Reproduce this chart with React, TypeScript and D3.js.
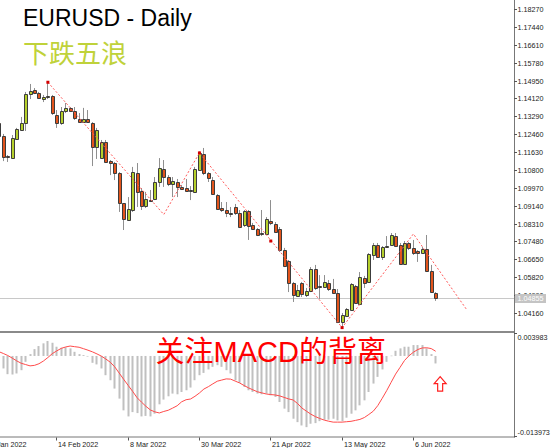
import React from 'react';
import * as d3 from 'd3';

const W = 554;
const H = 448;

// OHLC, bar 0 = partially visible first bar (26 Jan 2022) ... bar 98 = 13 Jun 2022
const open = [1.1300,
  1.1238, 1.1145, 1.1135, 1.1224, 1.1265, 1.1298, 1.1432, 1.1451, 1.1437, 1.1409,
  1.1419, 1.1423, 1.1335, 1.1298, 1.1354, 1.1368, 1.1354, 1.1316, 1.1302, 1.1316,
  1.1298, 1.1186, 1.1135, 1.1210, 1.1121, 1.1112, 1.1066, 1.0926, 1.0848, 1.0894,
  1.1066, 1.0982, 1.0913, 1.0940, 1.0945, 1.1024, 1.1084, 1.1047, 1.1015, 1.1024,
  1.1001, 1.0996, 1.0987, 1.0978, 1.1080, 1.1154, 1.1066, 1.1033, 1.0964, 1.0903,
  1.0894, 1.0880, 1.0908, 1.0880, 1.0824, 1.0889, 1.0824, 1.0806, 1.0787, 1.0783,
  1.0843, 1.0829, 1.0806, 1.0708, 1.0657, 1.0555, 1.0495, 1.0555, 1.0499, 1.0518,
  1.0620, 1.0541, 1.0537, 1.0555, 1.0527, 1.0509, 1.0374, 1.0402, 1.0430, 1.0541,
  1.0458, 1.0578, 1.0560, 1.0685, 1.0732, 1.0676, 1.0722, 1.0732, 1.0773, 1.0732,
  1.0643, 1.0741, 1.0718, 1.0704, 1.0694, 1.0713, 1.0611, 1.0509];
const high = [1.1306,
  1.1247, 1.1149, 1.1242, 1.1275, 1.1326, 1.1442, 1.1479, 1.1460, 1.1442, 1.1428,
  1.1488, 1.1428, 1.1358, 1.1372, 1.1391, 1.1372, 1.1372, 1.1344, 1.1368, 1.1358,
  1.1302, 1.1275, 1.1219, 1.1219, 1.1126, 1.1117, 1.1070, 1.0926, 1.0954, 1.1094,
  1.1112, 1.0996, 1.0978, 1.0987, 1.1047, 1.1135, 1.1126, 1.1056, 1.1047, 1.1038,
  1.1010, 1.1038, 1.1005, 1.1094, 1.1166, 1.1182, 1.1070, 1.1047, 1.0968, 1.0931,
  1.0931, 1.0908, 1.0922, 1.0894, 1.0894, 1.0894, 1.0834, 1.0810, 1.0894, 1.0861,
  1.0940, 1.0838, 1.0815, 1.0718, 1.0662, 1.0560, 1.0546, 1.0560, 1.0532, 1.0629,
  1.0639, 1.0592, 1.0592, 1.0569, 1.0574, 1.0527, 1.0416, 1.0439, 1.0555, 1.0546,
  1.0606, 1.0588, 1.0694, 1.0741, 1.0741, 1.0727, 1.0773, 1.0787, 1.0787, 1.0741,
  1.0750, 1.0745, 1.0755, 1.0708, 1.0722, 1.0778, 1.0639, 1.0513];
const low = [1.1233,
  1.1121, 1.1117, 1.1131, 1.1219, 1.1261, 1.1261, 1.1409, 1.1432, 1.1409, 1.1395,
  1.1409, 1.1335, 1.1275, 1.1289, 1.1344, 1.1349, 1.1312, 1.1298, 1.1298, 1.1298,
  1.1098, 1.1131, 1.1131, 1.1112, 1.1056, 1.1033, 1.0885, 1.0801, 1.0843, 1.0885,
  1.0908, 1.0894, 1.0903, 1.0931, 1.0940, 1.1001, 1.1001, 1.1005, 1.0954, 1.0954,
  1.0987, 1.0978, 1.0940, 1.0973, 1.1075, 1.1056, 1.1024, 1.0964, 1.0894, 1.0885,
  1.0861, 1.0861, 1.0871, 1.0810, 1.0815, 1.0755, 1.0801, 1.0773, 1.0773, 1.0778,
  1.0824, 1.0787, 1.0699, 1.0629, 1.0513, 1.0467, 1.0490, 1.0490, 1.0490, 1.0513,
  1.0523, 1.0481, 1.0532, 1.0518, 1.0504, 1.0369, 1.0351, 1.0397, 1.0425, 1.0458,
  1.0453, 1.0532, 1.0555, 1.0662, 1.0671, 1.0662, 1.0718, 1.0727, 1.0722, 1.0639,
  1.0639, 1.0708, 1.0685, 1.0653, 1.0690, 1.0606, 1.0509, 1.0472];
const close = [1.1238,
  1.1140, 1.1138, 1.1228, 1.1270, 1.1298, 1.1432, 1.1446, 1.1437, 1.1414, 1.1419,
  1.1423, 1.1344, 1.1298, 1.1354, 1.1368, 1.1354, 1.1321, 1.1302, 1.1316, 1.1302,
  1.1186, 1.1265, 1.1210, 1.1117, 1.1112, 1.1066, 1.0926, 1.0852, 1.0899, 1.1070,
  1.0978, 1.0913, 1.0945, 1.0936, 1.1024, 1.1089, 1.1047, 1.1015, 1.1029, 1.1001,
  1.0991, 1.0982, 1.0982, 1.1084, 1.1159, 1.1066, 1.1043, 1.0968, 1.0899, 1.0894,
  1.0880, 1.0875, 1.0880, 1.0815, 1.0889, 1.0820, 1.0806, 1.0778, 1.0783, 1.0852,
  1.0834, 1.0792, 1.0708, 1.0634, 1.0555, 1.0499, 1.0523, 1.0504, 1.0518, 1.0620,
  1.0532, 1.0537, 1.0560, 1.0527, 1.0509, 1.0374, 1.0407, 1.0434, 1.0550, 1.0462,
  1.0583, 1.0555, 1.0690, 1.0732, 1.0676, 1.0722, 1.0727, 1.0778, 1.0727, 1.0643,
  1.0741, 1.0718, 1.0694, 1.0694, 1.0713, 1.0611, 1.0513, 1.04855];

const macdMain = [-0.00120,
  -0.00217, -0.00316, -0.00322, -0.00304, -0.00247, -0.00102, 0.00032, 0.00119, 0.00172, 0.00219,
  0.00259, 0.00229, 0.00160, 0.00142, 0.00149, 0.00132, 0.00072, 0.00032, 0.00015, -0.00005,
  -0.00119, -0.00147, -0.00217, -0.00334, -0.00421, -0.00566, -0.00740, -0.00944, -0.01049, -0.00974,
  -0.00991, -0.01049, -0.01040, -0.01049, -0.01002, -0.00839, -0.00757, -0.00700, -0.00653, -0.00665,
  -0.00625, -0.00595, -0.00548, -0.00421, -0.00334, -0.00294, -0.00234, -0.00189, -0.00160, -0.00189,
  -0.00247, -0.00304, -0.00421, -0.00468, -0.00538, -0.00595, -0.00625, -0.00653, -0.00665, -0.00653,
  -0.00683, -0.00712, -0.00799, -0.00914, -0.00974, -0.01089, -0.01148, -0.01206, -0.01235, -0.01176,
  -0.01165, -0.01131, -0.01106, -0.01106, -0.01089, -0.01118, -0.01131, -0.01071, -0.01002, -0.00944,
  -0.00857, -0.00770, -0.00625, -0.00479, -0.00363, -0.00234, -0.00102, 0.00006, 0.00090, 0.00132,
  0.00160, 0.00160, 0.00189, 0.00189, 0.00189, 0.00132, 0.00032, -0.00130];
const macdSignal = [0.00075,
  0.00043, 0.00008, -0.00037, -0.00085, -0.00126, -0.00149, -0.00172, -0.00163, -0.00135, -0.00088,
  -0.00027, 0.00041, 0.00088, 0.00132, 0.00156, 0.00172, 0.00161, 0.00151, 0.00126, 0.00100,
  0.00071, 0.00036, -0.00003, -0.00053, -0.00109, -0.00189, -0.00297, -0.00405, -0.00510, -0.00613,
  -0.00723, -0.00801, -0.00874, -0.00937, -0.00970, -0.00989, -0.00963, -0.00942, -0.00904, -0.00864,
  -0.00796, -0.00759, -0.00747, -0.00700, -0.00642, -0.00574, -0.00533, -0.00484, -0.00438, -0.00418,
  -0.00398, -0.00402, -0.00435, -0.00468, -0.00512, -0.00553, -0.00588, -0.00621, -0.00641, -0.00660,
  -0.00670, -0.00677, -0.00693, -0.00719, -0.00745, -0.00763, -0.00824, -0.00904, -0.00958, -0.01010,
  -0.01052, -0.01085, -0.01113, -0.01132, -0.01148, -0.01148, -0.01148, -0.01141, -0.01134, -0.01118,
  -0.01101, -0.01068, -0.01015, -0.00958, -0.00862, -0.00735, -0.00602, -0.00458, -0.00315, -0.00198,
  -0.00079, 0.00003, 0.00065, 0.00112, 0.00139, 0.00142, 0.00128, 0.00081];

const priceTicks = [1.18270, 1.17440, 1.16610, 1.15780, 1.14950, 1.14120, 1.13290, 1.12460, 1.11630,
  1.10800, 1.09970, 1.09140, 1.08310, 1.07480, 1.06650, 1.05820, 1.04990, 1.04160];
const macdMax = 0.003983;
const macdMin = -0.013973;
const dateLabels = ['21 Jan 2022', '14 Feb 2022', '8 Mar 2022', '30 Mar 2022', '21 Apr 2022', '13 May 2022', '6 Jun 2022'];
const dateBars = [-3, 13, 29, 45, 61, 77, 93];

const waveBars = [11, 37, 45, 77, 93, 105];
const wavePrices = [1.1487, 1.0873, 1.1159, 1.0348, 1.0783, 1.0430];
const markerBars = [11, 45, 61, 77];
const markerPrices = [1.1487, 1.1159, 1.0750, 1.0348];
const lastPrice = 1.04855;
const arrowBar = 99;
const arrowValue = -0.0036;

const BULL = '#b5cf2b';
const BEAR = '#e2541c';
const AXIS_FONT = "'Liberation Sans', Arial, sans-serif";

export default function App() {
  const plotR = 514;
  const priceBottom = 331;
  const macdTop = 333;
  const macdBottom = 436.5;

  const x = d3.scaleLinear().domain([1, 98]).range([3.3, 435.7]);
  const y = d3.scaleLinear().domain([1.03323, 1.18688]).range([priceBottom, 0]);
  const ym = d3.scaleLinear().domain([macdMin, macdMax]).range([macdBottom, macdTop]);

  const idx = d3.range(open.length);
  const waveLine = d3.line<number>().x((_, i) => x(waveBars[i])).y((p) => y(p));
  const sigLine = d3.line<number>().x((_, i) => x(i)).y((v) => ym(v));

  const lastY = Math.round(y(lastPrice)) + 0.5;
  const zeroY = ym(0);

  const ax = x(arrowBar);
  const ay = ym(arrowValue);
  const arrowPath = `M${ax},${ay} L${ax + 6},${ay + 7} L${ax + 2.5},${ay + 7} L${ax + 2.5},${ay + 14.5} L${ax - 2.5},${ay + 14.5} L${ax - 2.5},${ay + 7} L${ax - 6},${ay + 7} Z`;

  return (
    <svg width={W} height={H} style={{ position: 'absolute', left: 0, top: 0, background: '#fff', display: 'block' }}>
      <defs>
        <clipPath id="pclip"><rect x={0} y={0} width={plotR} height={priceBottom} /></clipPath>
        <clipPath id="mclip"><rect x={0} y={macdTop} width={plotR} height={macdBottom - macdTop} /></clipPath>
      </defs>
      <rect x={0} y={0} width={W} height={H} fill="#fff" />

      {/* price panel */}
      <g clipPath="url(#pclip)">
        <line x1={0} x2={plotR} y1={lastY} y2={lastY} stroke="#c8c8c8" strokeWidth={1} />
        {idx.map((i) => {
          const cx = Math.floor(x(i));
          const o = open[i], c = close[i];
          const top = Math.round(y(Math.max(o, c))) + 0.5;
          const bot = Math.round(y(Math.min(o, c))) + 0.5;
          const bull = c > o;
          return (
            <g key={i}>
              <line x1={cx + 0.5} x2={cx + 0.5} y1={y(high[i])} y2={y(low[i])} stroke="#8f8f8f" strokeWidth={1} />
              <path d={`M${cx - 0.5},${top} H${cx + 2.5} V${bot} H${cx - 0.5} Z`} fill={bull ? BULL : BEAR} stroke="#3c3c3c" strokeWidth={1} />
            </g>
          );
        })}
        <path d={waveLine(wavePrices) || ''} fill="none" stroke="#ff5a5a" strokeWidth={1} strokeDasharray="2,2" />
        {markerBars.map((b, i) => (
          <rect key={i} x={x(b) - 1.5} y={y(markerPrices[i]) - 1.5} width={3} height={3} fill="#d40000" />
        ))}
      </g>

      {/* separator */}
      <rect x={0} y={priceBottom} width={plotR} height={2} fill="#8a8a8a" />

      {/* MACD panel */}
      <g clipPath="url(#mclip)">
        {idx.map((i) => {
          const v = macdMain[i];
          const yv = ym(v);
          const cx = Math.floor(x(i));
          return (
            <rect key={i} x={cx - 0.5} y={Math.min(yv, zeroY)} width={2} height={Math.max(Math.abs(yv - zeroY), 0.6)} fill="#c0c0c0" />
          );
        })}
        <path d={sigLine(macdSignal) || ''} fill="none" stroke="#ff4a4a" strokeWidth={1} />
      </g>

      <text x={155.5} y={362} fontSize={29} fill="#ff0000" fontFamily="'Liberation Sans', Arial, 'Noto Sans CJK SC', sans-serif">关注MACD的背离</text>
      <path d={arrowPath} fill="#fff" stroke="#ff2020" strokeWidth={1.2} />

      {/* axes */}
      <line x1={plotR + 0.5} x2={plotR + 0.5} y1={0} y2={macdBottom + 1} stroke="#777" strokeWidth={1} />
      <line x1={0} x2={plotR + 1} y1={macdBottom + 0.5} y2={macdBottom + 0.5} stroke="#777" strokeWidth={1} />

      {priceTicks.map((p) => {
        const ty = Math.round(y(p)) + 0.5;
        return (
          <g key={p}>
            <line x1={plotR} x2={plotR + 3} y1={ty} y2={ty} stroke="#555" />
            <text x={plotR + 3.5} y={ty} dy="0.35em" fontSize={7.2} fill="#222" fontFamily={AXIS_FONT}>{p.toFixed(5)}</text>
          </g>
        );
      })}
      <rect x={plotR + 1} y={lastY - 4.5} width={31} height={9} fill="#c4c4c4" />
      <text x={plotR + 3.5} y={lastY} dy="0.35em" fontSize={7.2} fill="#fff" fontFamily={AXIS_FONT}>{lastPrice.toFixed(5)}</text>

      <line x1={plotR} x2={plotR + 3} y1={macdTop + 0.5} y2={macdTop + 0.5} stroke="#555" />
      <text x={plotR + 3.5} y={macdTop + 6.5} fontSize={7.2} fill="#222" fontFamily={AXIS_FONT}>{macdMax.toFixed(6)}</text>
      <line x1={plotR} x2={plotR + 3} y1={macdBottom} y2={macdBottom} stroke="#555" />
      <text x={plotR + 3.5} y={macdBottom - 2} fontSize={7.2} fill="#222" fontFamily={AXIS_FONT}>{macdMin.toFixed(6)}</text>

      {dateBars.map((b, i) => {
        const tx = Math.floor(x(b)) + 0.5;
        return (
          <g key={b}>
            <line x1={tx} x2={tx} y1={macdBottom + 1} y2={macdBottom + 4} stroke="#555" />
            <text x={tx + 1.5} y={447} fontSize={7.2} fill="#222" fontFamily={AXIS_FONT}>{dateLabels[i]}</text>
          </g>
        );
      })}

      {/* titles */}
      <text x={23} y={25.5} fontSize={23} fill="#000" fontFamily="'Liberation Sans', Arial, sans-serif">EURUSD - Daily</text>
      <text x={23} y={62.5} fontSize={26} fill="#bfd23a" fontFamily="'Noto Sans CJK SC', sans-serif">下跌五浪</text>
    </svg>
  );
}
